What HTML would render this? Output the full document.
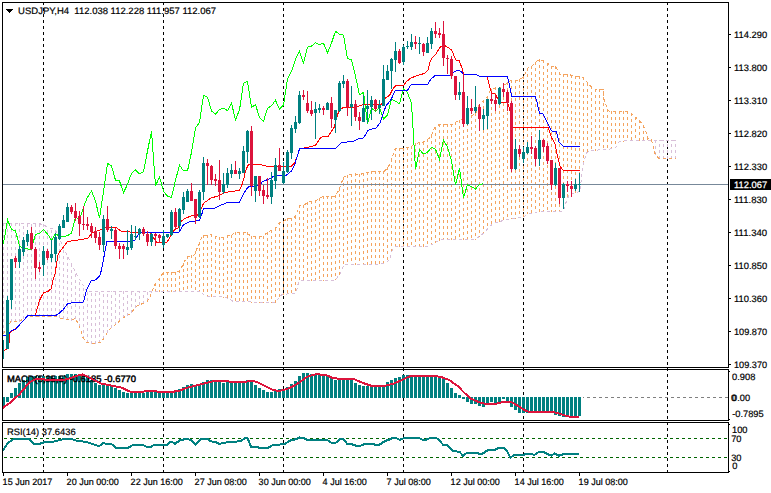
<!DOCTYPE html>
<html><head><meta charset="utf-8"><title>USDJPY H4</title>
<style>
html,body{margin:0;padding:0;background:#fff;}
body{width:771px;height:493px;position:relative;overflow:hidden;}
svg{font-family:"Liberation Sans",sans-serif;}
</style></head><body>
<svg width="771" height="493" viewBox="0 0 771 493" style="position:absolute;left:0;top:0" shape-rendering="crispEdges">
<line x1="43.5" y1="2" x2="43.5" y2="473" stroke="#000" stroke-width="1" stroke-dasharray="3 3"/>
<line x1="163.5" y1="2" x2="163.5" y2="473" stroke="#000" stroke-width="1" stroke-dasharray="3 3"/>
<line x1="283.5" y1="2" x2="283.5" y2="473" stroke="#000" stroke-width="1" stroke-dasharray="3 3"/>
<line x1="403.5" y1="2" x2="403.5" y2="473" stroke="#000" stroke-width="1" stroke-dasharray="3 3"/>
<line x1="523.5" y1="2" x2="523.5" y2="473" stroke="#000" stroke-width="1" stroke-dasharray="3 3"/>
<line x1="667.5" y1="2" x2="667.5" y2="473" stroke="#000" stroke-width="1" stroke-dasharray="3 3"/>
<clipPath id="cm"><rect x="3" y="3" width="725" height="364"/></clipPath>
<g clip-path="url(#cm)">
<line x1="3.5" y1="334" x2="3.5" y2="223" stroke="#D8BFD8" stroke-width="1" stroke-dasharray="3 3"/>
<line x1="7.5" y1="328" x2="7.5" y2="223" stroke="#D8BFD8" stroke-width="1" stroke-dasharray="3 3"/>
<line x1="11.5" y1="322" x2="11.5" y2="223" stroke="#D8BFD8" stroke-width="1" stroke-dasharray="3 3"/>
<line x1="15.5" y1="322" x2="15.5" y2="223" stroke="#D8BFD8" stroke-width="1" stroke-dasharray="3 3"/>
<line x1="19.5" y1="322" x2="19.5" y2="223" stroke="#D8BFD8" stroke-width="1" stroke-dasharray="3 3"/>
<line x1="23.5" y1="319" x2="23.5" y2="223" stroke="#D8BFD8" stroke-width="1" stroke-dasharray="3 3"/>
<line x1="27.5" y1="317" x2="27.5" y2="223" stroke="#D8BFD8" stroke-width="1" stroke-dasharray="3 3"/>
<line x1="31.5" y1="317" x2="31.5" y2="223" stroke="#D8BFD8" stroke-width="1" stroke-dasharray="3 3"/>
<line x1="35.5" y1="317" x2="35.5" y2="223" stroke="#D8BFD8" stroke-width="1" stroke-dasharray="3 3"/>
<line x1="39.5" y1="317" x2="39.5" y2="223" stroke="#D8BFD8" stroke-width="1" stroke-dasharray="3 3"/>
<line x1="43.5" y1="317" x2="43.5" y2="224" stroke="#D8BFD8" stroke-width="1" stroke-dasharray="3 3"/>
<line x1="47.5" y1="317" x2="47.5" y2="227" stroke="#D8BFD8" stroke-width="1" stroke-dasharray="3 3"/>
<line x1="51.5" y1="317" x2="51.5" y2="228" stroke="#D8BFD8" stroke-width="1" stroke-dasharray="3 3"/>
<line x1="55.5" y1="317" x2="55.5" y2="230" stroke="#D8BFD8" stroke-width="1" stroke-dasharray="3 3"/>
<line x1="59.5" y1="318" x2="59.5" y2="238" stroke="#D8BFD8" stroke-width="1" stroke-dasharray="3 3"/>
<line x1="63.5" y1="319" x2="63.5" y2="247" stroke="#D8BFD8" stroke-width="1" stroke-dasharray="3 3"/>
<line x1="67.5" y1="320" x2="67.5" y2="256" stroke="#D8BFD8" stroke-width="1" stroke-dasharray="3 3"/>
<line x1="71.5" y1="321" x2="71.5" y2="264" stroke="#D8BFD8" stroke-width="1" stroke-dasharray="3 3"/>
<line x1="75.5" y1="319" x2="75.5" y2="272" stroke="#D8BFD8" stroke-width="1" stroke-dasharray="3 3"/>
<line x1="79.5" y1="327" x2="79.5" y2="279" stroke="#D8BFD8" stroke-width="1" stroke-dasharray="3 3"/>
<line x1="83.5" y1="339" x2="83.5" y2="286" stroke="#D8BFD8" stroke-width="1" stroke-dasharray="3 3"/>
<line x1="87.5" y1="343" x2="87.5" y2="291" stroke="#D8BFD8" stroke-width="1" stroke-dasharray="3 3"/>
<line x1="91.5" y1="344" x2="91.5" y2="291" stroke="#D8BFD8" stroke-width="1" stroke-dasharray="3 3"/>
<line x1="95.5" y1="344" x2="95.5" y2="291" stroke="#D8BFD8" stroke-width="1" stroke-dasharray="3 3"/>
<line x1="99.5" y1="343" x2="99.5" y2="291" stroke="#D8BFD8" stroke-width="1" stroke-dasharray="3 3"/>
<line x1="103.5" y1="339" x2="103.5" y2="291" stroke="#D8BFD8" stroke-width="1" stroke-dasharray="3 3"/>
<line x1="107.5" y1="333" x2="107.5" y2="291" stroke="#D8BFD8" stroke-width="1" stroke-dasharray="3 3"/>
<line x1="111.5" y1="328" x2="111.5" y2="291" stroke="#D8BFD8" stroke-width="1" stroke-dasharray="3 3"/>
<line x1="115.5" y1="325" x2="115.5" y2="291" stroke="#D8BFD8" stroke-width="1" stroke-dasharray="3 3"/>
<line x1="119.5" y1="321" x2="119.5" y2="291" stroke="#D8BFD8" stroke-width="1" stroke-dasharray="3 3"/>
<line x1="123.5" y1="318" x2="123.5" y2="291" stroke="#D8BFD8" stroke-width="1" stroke-dasharray="3 3"/>
<line x1="127.5" y1="316" x2="127.5" y2="291" stroke="#D8BFD8" stroke-width="1" stroke-dasharray="3 3"/>
<line x1="131.5" y1="313" x2="131.5" y2="291" stroke="#D8BFD8" stroke-width="1" stroke-dasharray="3 3"/>
<line x1="135.5" y1="308" x2="135.5" y2="291" stroke="#D8BFD8" stroke-width="1" stroke-dasharray="3 3"/>
<line x1="139.5" y1="305" x2="139.5" y2="291" stroke="#D8BFD8" stroke-width="1" stroke-dasharray="3 3"/>
<line x1="143.5" y1="304" x2="143.5" y2="291" stroke="#D8BFD8" stroke-width="1" stroke-dasharray="3 3"/>
<line x1="147.5" y1="301" x2="147.5" y2="291" stroke="#D8BFD8" stroke-width="1" stroke-dasharray="3 3"/>
<line x1="151.5" y1="293" x2="151.5" y2="291" stroke="#D8BFD8" stroke-width="1" stroke-dasharray="3 3"/>
<line x1="155.5" y1="283" x2="155.5" y2="292" stroke="#F4A460" stroke-width="1" stroke-dasharray="3 3"/>
<line x1="159.5" y1="278" x2="159.5" y2="292" stroke="#F4A460" stroke-width="1" stroke-dasharray="3 3"/>
<line x1="163.5" y1="272" x2="163.5" y2="292" stroke="#F4A460" stroke-width="1" stroke-dasharray="3 3"/>
<line x1="167.5" y1="272" x2="167.5" y2="292" stroke="#F4A460" stroke-width="1" stroke-dasharray="3 3"/>
<line x1="171.5" y1="272" x2="171.5" y2="292" stroke="#F4A460" stroke-width="1" stroke-dasharray="3 3"/>
<line x1="175.5" y1="272" x2="175.5" y2="292" stroke="#F4A460" stroke-width="1" stroke-dasharray="3 3"/>
<line x1="179.5" y1="270" x2="179.5" y2="292" stroke="#F4A460" stroke-width="1" stroke-dasharray="3 3"/>
<line x1="183.5" y1="263" x2="183.5" y2="292" stroke="#F4A460" stroke-width="1" stroke-dasharray="3 3"/>
<line x1="187.5" y1="256" x2="187.5" y2="292" stroke="#F4A460" stroke-width="1" stroke-dasharray="3 3"/>
<line x1="191.5" y1="255" x2="191.5" y2="292" stroke="#F4A460" stroke-width="1" stroke-dasharray="3 3"/>
<line x1="195.5" y1="251" x2="195.5" y2="292" stroke="#F4A460" stroke-width="1" stroke-dasharray="3 3"/>
<line x1="199.5" y1="242" x2="199.5" y2="292" stroke="#F4A460" stroke-width="1" stroke-dasharray="3 3"/>
<line x1="203.5" y1="235" x2="203.5" y2="295" stroke="#F4A460" stroke-width="1" stroke-dasharray="3 3"/>
<line x1="207.5" y1="235" x2="207.5" y2="297" stroke="#F4A460" stroke-width="1" stroke-dasharray="3 3"/>
<line x1="211.5" y1="234" x2="211.5" y2="297" stroke="#F4A460" stroke-width="1" stroke-dasharray="3 3"/>
<line x1="215.5" y1="236" x2="215.5" y2="297" stroke="#F4A460" stroke-width="1" stroke-dasharray="3 3"/>
<line x1="219.5" y1="237" x2="219.5" y2="297" stroke="#F4A460" stroke-width="1" stroke-dasharray="3 3"/>
<line x1="223.5" y1="237" x2="223.5" y2="298" stroke="#F4A460" stroke-width="1" stroke-dasharray="3 3"/>
<line x1="227.5" y1="235" x2="227.5" y2="299" stroke="#F4A460" stroke-width="1" stroke-dasharray="3 3"/>
<line x1="231.5" y1="235" x2="231.5" y2="301" stroke="#F4A460" stroke-width="1" stroke-dasharray="3 3"/>
<line x1="235.5" y1="232" x2="235.5" y2="302" stroke="#F4A460" stroke-width="1" stroke-dasharray="3 3"/>
<line x1="239.5" y1="232" x2="239.5" y2="302" stroke="#F4A460" stroke-width="1" stroke-dasharray="3 3"/>
<line x1="243.5" y1="232" x2="243.5" y2="302" stroke="#F4A460" stroke-width="1" stroke-dasharray="3 3"/>
<line x1="247.5" y1="232" x2="247.5" y2="302" stroke="#F4A460" stroke-width="1" stroke-dasharray="3 3"/>
<line x1="251.5" y1="236" x2="251.5" y2="303" stroke="#F4A460" stroke-width="1" stroke-dasharray="3 3"/>
<line x1="255.5" y1="236" x2="255.5" y2="303" stroke="#F4A460" stroke-width="1" stroke-dasharray="3 3"/>
<line x1="259.5" y1="236" x2="259.5" y2="303" stroke="#F4A460" stroke-width="1" stroke-dasharray="3 3"/>
<line x1="263.5" y1="236" x2="263.5" y2="303" stroke="#F4A460" stroke-width="1" stroke-dasharray="3 3"/>
<line x1="267.5" y1="232" x2="267.5" y2="303" stroke="#F4A460" stroke-width="1" stroke-dasharray="3 3"/>
<line x1="271.5" y1="230" x2="271.5" y2="303" stroke="#F4A460" stroke-width="1" stroke-dasharray="3 3"/>
<line x1="275.5" y1="228" x2="275.5" y2="303" stroke="#F4A460" stroke-width="1" stroke-dasharray="3 3"/>
<line x1="279.5" y1="222" x2="279.5" y2="298" stroke="#F4A460" stroke-width="1" stroke-dasharray="3 3"/>
<line x1="283.5" y1="221" x2="283.5" y2="295" stroke="#F4A460" stroke-width="1" stroke-dasharray="3 3"/>
<line x1="287.5" y1="218" x2="287.5" y2="294" stroke="#F4A460" stroke-width="1" stroke-dasharray="3 3"/>
<line x1="291.5" y1="218" x2="291.5" y2="294" stroke="#F4A460" stroke-width="1" stroke-dasharray="3 3"/>
<line x1="295.5" y1="216" x2="295.5" y2="294" stroke="#F4A460" stroke-width="1" stroke-dasharray="3 3"/>
<line x1="299.5" y1="205" x2="299.5" y2="282" stroke="#F4A460" stroke-width="1" stroke-dasharray="3 3"/>
<line x1="303.5" y1="205" x2="303.5" y2="281" stroke="#F4A460" stroke-width="1" stroke-dasharray="3 3"/>
<line x1="307.5" y1="202" x2="307.5" y2="281" stroke="#F4A460" stroke-width="1" stroke-dasharray="3 3"/>
<line x1="311.5" y1="201" x2="311.5" y2="281" stroke="#F4A460" stroke-width="1" stroke-dasharray="3 3"/>
<line x1="315.5" y1="200" x2="315.5" y2="281" stroke="#F4A460" stroke-width="1" stroke-dasharray="3 3"/>
<line x1="319.5" y1="198" x2="319.5" y2="281" stroke="#F4A460" stroke-width="1" stroke-dasharray="3 3"/>
<line x1="323.5" y1="196" x2="323.5" y2="281" stroke="#F4A460" stroke-width="1" stroke-dasharray="3 3"/>
<line x1="327.5" y1="196" x2="327.5" y2="281" stroke="#F4A460" stroke-width="1" stroke-dasharray="3 3"/>
<line x1="331.5" y1="196" x2="331.5" y2="281" stroke="#F4A460" stroke-width="1" stroke-dasharray="3 3"/>
<line x1="335.5" y1="195" x2="335.5" y2="280" stroke="#F4A460" stroke-width="1" stroke-dasharray="3 3"/>
<line x1="339.5" y1="188" x2="339.5" y2="275" stroke="#F4A460" stroke-width="1" stroke-dasharray="3 3"/>
<line x1="343.5" y1="177" x2="343.5" y2="266" stroke="#F4A460" stroke-width="1" stroke-dasharray="3 3"/>
<line x1="347.5" y1="175" x2="347.5" y2="265" stroke="#F4A460" stroke-width="1" stroke-dasharray="3 3"/>
<line x1="351.5" y1="174" x2="351.5" y2="265" stroke="#F4A460" stroke-width="1" stroke-dasharray="3 3"/>
<line x1="355.5" y1="173" x2="355.5" y2="265" stroke="#F4A460" stroke-width="1" stroke-dasharray="3 3"/>
<line x1="359.5" y1="174" x2="359.5" y2="265" stroke="#F4A460" stroke-width="1" stroke-dasharray="3 3"/>
<line x1="363.5" y1="173" x2="363.5" y2="265" stroke="#F4A460" stroke-width="1" stroke-dasharray="3 3"/>
<line x1="367.5" y1="172" x2="367.5" y2="265" stroke="#F4A460" stroke-width="1" stroke-dasharray="3 3"/>
<line x1="371.5" y1="171" x2="371.5" y2="265" stroke="#F4A460" stroke-width="1" stroke-dasharray="3 3"/>
<line x1="375.5" y1="171" x2="375.5" y2="265" stroke="#F4A460" stroke-width="1" stroke-dasharray="3 3"/>
<line x1="379.5" y1="171" x2="379.5" y2="265" stroke="#F4A460" stroke-width="1" stroke-dasharray="3 3"/>
<line x1="383.5" y1="171" x2="383.5" y2="264" stroke="#F4A460" stroke-width="1" stroke-dasharray="3 3"/>
<line x1="387.5" y1="167" x2="387.5" y2="262" stroke="#F4A460" stroke-width="1" stroke-dasharray="3 3"/>
<line x1="391.5" y1="159" x2="391.5" y2="253" stroke="#F4A460" stroke-width="1" stroke-dasharray="3 3"/>
<line x1="395.5" y1="148" x2="395.5" y2="247" stroke="#F4A460" stroke-width="1" stroke-dasharray="3 3"/>
<line x1="399.5" y1="148" x2="399.5" y2="247" stroke="#F4A460" stroke-width="1" stroke-dasharray="3 3"/>
<line x1="403.5" y1="148" x2="403.5" y2="247" stroke="#F4A460" stroke-width="1" stroke-dasharray="3 3"/>
<line x1="407.5" y1="147" x2="407.5" y2="247" stroke="#F4A460" stroke-width="1" stroke-dasharray="3 3"/>
<line x1="411.5" y1="146" x2="411.5" y2="247" stroke="#F4A460" stroke-width="1" stroke-dasharray="3 3"/>
<line x1="415.5" y1="143" x2="415.5" y2="247" stroke="#F4A460" stroke-width="1" stroke-dasharray="3 3"/>
<line x1="419.5" y1="142" x2="419.5" y2="247" stroke="#F4A460" stroke-width="1" stroke-dasharray="3 3"/>
<line x1="423.5" y1="142" x2="423.5" y2="247" stroke="#F4A460" stroke-width="1" stroke-dasharray="3 3"/>
<line x1="427.5" y1="139" x2="427.5" y2="247" stroke="#F4A460" stroke-width="1" stroke-dasharray="3 3"/>
<line x1="431.5" y1="135" x2="431.5" y2="245" stroke="#F4A460" stroke-width="1" stroke-dasharray="3 3"/>
<line x1="435.5" y1="127" x2="435.5" y2="243" stroke="#F4A460" stroke-width="1" stroke-dasharray="3 3"/>
<line x1="439.5" y1="124" x2="439.5" y2="241" stroke="#F4A460" stroke-width="1" stroke-dasharray="3 3"/>
<line x1="443.5" y1="124" x2="443.5" y2="240" stroke="#F4A460" stroke-width="1" stroke-dasharray="3 3"/>
<line x1="447.5" y1="124" x2="447.5" y2="240" stroke="#F4A460" stroke-width="1" stroke-dasharray="3 3"/>
<line x1="451.5" y1="124" x2="451.5" y2="240" stroke="#F4A460" stroke-width="1" stroke-dasharray="3 3"/>
<line x1="455.5" y1="122" x2="455.5" y2="240" stroke="#F4A460" stroke-width="1" stroke-dasharray="3 3"/>
<line x1="459.5" y1="120" x2="459.5" y2="240" stroke="#F4A460" stroke-width="1" stroke-dasharray="3 3"/>
<line x1="463.5" y1="118" x2="463.5" y2="240" stroke="#F4A460" stroke-width="1" stroke-dasharray="3 3"/>
<line x1="467.5" y1="117" x2="467.5" y2="240" stroke="#F4A460" stroke-width="1" stroke-dasharray="3 3"/>
<line x1="471.5" y1="115" x2="471.5" y2="240" stroke="#F4A460" stroke-width="1" stroke-dasharray="3 3"/>
<line x1="475.5" y1="113" x2="475.5" y2="240" stroke="#F4A460" stroke-width="1" stroke-dasharray="3 3"/>
<line x1="479.5" y1="104" x2="479.5" y2="237" stroke="#F4A460" stroke-width="1" stroke-dasharray="3 3"/>
<line x1="483.5" y1="100" x2="483.5" y2="234" stroke="#F4A460" stroke-width="1" stroke-dasharray="3 3"/>
<line x1="487.5" y1="97" x2="487.5" y2="229" stroke="#F4A460" stroke-width="1" stroke-dasharray="3 3"/>
<line x1="491.5" y1="89" x2="491.5" y2="225" stroke="#F4A460" stroke-width="1" stroke-dasharray="3 3"/>
<line x1="495.5" y1="87" x2="495.5" y2="223" stroke="#F4A460" stroke-width="1" stroke-dasharray="3 3"/>
<line x1="499.5" y1="87" x2="499.5" y2="222" stroke="#F4A460" stroke-width="1" stroke-dasharray="3 3"/>
<line x1="503.5" y1="85" x2="503.5" y2="221" stroke="#F4A460" stroke-width="1" stroke-dasharray="3 3"/>
<line x1="507.5" y1="82" x2="507.5" y2="220" stroke="#F4A460" stroke-width="1" stroke-dasharray="3 3"/>
<line x1="511.5" y1="80" x2="511.5" y2="219" stroke="#F4A460" stroke-width="1" stroke-dasharray="3 3"/>
<line x1="515.5" y1="80" x2="515.5" y2="219" stroke="#F4A460" stroke-width="1" stroke-dasharray="3 3"/>
<line x1="519.5" y1="79" x2="519.5" y2="218" stroke="#F4A460" stroke-width="1" stroke-dasharray="3 3"/>
<line x1="523.5" y1="76" x2="523.5" y2="217" stroke="#F4A460" stroke-width="1" stroke-dasharray="3 3"/>
<line x1="527.5" y1="68" x2="527.5" y2="214" stroke="#F4A460" stroke-width="1" stroke-dasharray="3 3"/>
<line x1="531.5" y1="66" x2="531.5" y2="214" stroke="#F4A460" stroke-width="1" stroke-dasharray="3 3"/>
<line x1="535.5" y1="62" x2="535.5" y2="213" stroke="#F4A460" stroke-width="1" stroke-dasharray="3 3"/>
<line x1="539.5" y1="59" x2="539.5" y2="212" stroke="#F4A460" stroke-width="1" stroke-dasharray="3 3"/>
<line x1="543.5" y1="60" x2="543.5" y2="212" stroke="#F4A460" stroke-width="1" stroke-dasharray="3 3"/>
<line x1="547.5" y1="63" x2="547.5" y2="212" stroke="#F4A460" stroke-width="1" stroke-dasharray="3 3"/>
<line x1="551.5" y1="66" x2="551.5" y2="212" stroke="#F4A460" stroke-width="1" stroke-dasharray="3 3"/>
<line x1="555.5" y1="66" x2="555.5" y2="212" stroke="#F4A460" stroke-width="1" stroke-dasharray="3 3"/>
<line x1="559.5" y1="72" x2="559.5" y2="212" stroke="#F4A460" stroke-width="1" stroke-dasharray="3 3"/>
<line x1="563.5" y1="74" x2="563.5" y2="210" stroke="#F4A460" stroke-width="1" stroke-dasharray="3 3"/>
<line x1="567.5" y1="74" x2="567.5" y2="199" stroke="#F4A460" stroke-width="1" stroke-dasharray="3 3"/>
<line x1="571.5" y1="75" x2="571.5" y2="194" stroke="#F4A460" stroke-width="1" stroke-dasharray="3 3"/>
<line x1="575.5" y1="76" x2="575.5" y2="193" stroke="#F4A460" stroke-width="1" stroke-dasharray="3 3"/>
<line x1="579.5" y1="76" x2="579.5" y2="192" stroke="#F4A460" stroke-width="1" stroke-dasharray="3 3"/>
<line x1="583.5" y1="77" x2="583.5" y2="165" stroke="#F4A460" stroke-width="1" stroke-dasharray="3 3"/>
<line x1="587.5" y1="83" x2="587.5" y2="153" stroke="#F4A460" stroke-width="1" stroke-dasharray="3 3"/>
<line x1="591.5" y1="86" x2="591.5" y2="151" stroke="#F4A460" stroke-width="1" stroke-dasharray="3 3"/>
<line x1="595.5" y1="89" x2="595.5" y2="151" stroke="#F4A460" stroke-width="1" stroke-dasharray="3 3"/>
<line x1="599.5" y1="89" x2="599.5" y2="150" stroke="#F4A460" stroke-width="1" stroke-dasharray="3 3"/>
<line x1="603.5" y1="91" x2="603.5" y2="150" stroke="#F4A460" stroke-width="1" stroke-dasharray="3 3"/>
<line x1="607.5" y1="109" x2="607.5" y2="150" stroke="#F4A460" stroke-width="1" stroke-dasharray="3 3"/>
<line x1="611.5" y1="111" x2="611.5" y2="149" stroke="#F4A460" stroke-width="1" stroke-dasharray="3 3"/>
<line x1="615.5" y1="111" x2="615.5" y2="148" stroke="#F4A460" stroke-width="1" stroke-dasharray="3 3"/>
<line x1="619.5" y1="111" x2="619.5" y2="142" stroke="#F4A460" stroke-width="1" stroke-dasharray="3 3"/>
<line x1="623.5" y1="111" x2="623.5" y2="142" stroke="#F4A460" stroke-width="1" stroke-dasharray="3 3"/>
<line x1="627.5" y1="111" x2="627.5" y2="141" stroke="#F4A460" stroke-width="1" stroke-dasharray="3 3"/>
<line x1="631.5" y1="113" x2="631.5" y2="141" stroke="#F4A460" stroke-width="1" stroke-dasharray="3 3"/>
<line x1="635.5" y1="117" x2="635.5" y2="141" stroke="#F4A460" stroke-width="1" stroke-dasharray="3 3"/>
<line x1="639.5" y1="120" x2="639.5" y2="141" stroke="#F4A460" stroke-width="1" stroke-dasharray="3 3"/>
<line x1="643.5" y1="125" x2="643.5" y2="141" stroke="#F4A460" stroke-width="1" stroke-dasharray="3 3"/>
<line x1="647.5" y1="137" x2="647.5" y2="141" stroke="#F4A460" stroke-width="1" stroke-dasharray="3 3"/>
<line x1="651.5" y1="139" x2="651.5" y2="141" stroke="#F4A460" stroke-width="1" stroke-dasharray="3 3"/>
<line x1="655.5" y1="155" x2="655.5" y2="140" stroke="#D8BFD8" stroke-width="1" stroke-dasharray="3 3"/>
<line x1="659.5" y1="159" x2="659.5" y2="140" stroke="#D8BFD8" stroke-width="1" stroke-dasharray="3 3"/>
<line x1="663.5" y1="159" x2="663.5" y2="140" stroke="#D8BFD8" stroke-width="1" stroke-dasharray="3 3"/>
<line x1="667.5" y1="159" x2="667.5" y2="140" stroke="#D8BFD8" stroke-width="1" stroke-dasharray="3 3"/>
<line x1="671.5" y1="159" x2="671.5" y2="140" stroke="#D8BFD8" stroke-width="1" stroke-dasharray="3 3"/>
<line x1="675.5" y1="159" x2="675.5" y2="140" stroke="#D8BFD8" stroke-width="1" stroke-dasharray="3 3"/>
<polyline points="3.0,223.5 36.0,223.5 44.0,224.4 47.0,227.3 52.0,228.7 56.0,231.0 66.0,253.0 72.5,266.0 78.0,277.0 87.0,292.0 120.0,291.6 201.0,291.3 205.2,296.6 223.4,297.0 228.0,298.4 233.8,301.8 275.3,302.3 281.8,294.5 296.0,293.2 298.7,281.6 302.6,280.3 335.0,280.3 340.3,273.8 344.0,264.7 385.7,263.9 390.0,258.0 392.6,248.8 396.5,246.2 429.0,246.2 435.5,242.3 442.0,239.2 475.7,239.2 483.5,233.2 490.0,226.2 494.0,222.9 504.3,220.3 512.0,218.4 522.5,217.7 527.7,213.8 539.4,211.5 562.7,211.0 564.0,209.0 566.3,201.5 569.3,194.5 580.0,191.5 582.0,172.0 583.6,163.7 586.0,153.6 589.5,150.6 604.7,149.6 607.0,150.0 616.4,147.0 619.2,142.0 624.2,141.0 675.6,140.7" fill="none" stroke="#D8BFD8" stroke-width="1" stroke-dasharray="3 3" />
<polyline points="2.9,334.0 5.2,331.4 11.0,321.4 19.5,321.4 27.0,316.4 56.0,316.4 59.1,317.8 65.0,319.4 71.4,320.1 75.3,318.4 77.9,323.0 81.2,330.8 83.1,337.9 87.0,342.7 91.0,343.5 101.2,342.5 105.4,335.7 109.6,329.3 116.4,323.9 121.4,319.2 126.5,315.5 130.0,314.0 136.9,306.0 147.0,301.7 150.4,295.8 152.0,291.6 155.4,283.2 159.6,278.0 163.0,273.0 175.6,272.6 179.0,271.4 183.2,264.6 186.6,257.0 194.2,255.0 198.4,245.2 202.6,235.5 212.0,234.8 215.3,236.8 223.7,237.6 228.0,235.5 231.4,235.5 234.7,232.6 247.3,232.2 250.4,236.4 259.7,236.8 264.0,236.0 267.0,232.2 271.0,230.6 275.5,228.4 279.5,222.5 283.5,221.4 287.5,218.4 291.5,218.4 295.5,216.5 299.5,205.5 303.5,205.5 307.5,202.4 316.8,200.0 323.0,196.6 335.4,196.0 338.5,190.7 341.7,182.4 343.7,177.3 347.9,175.2 354.0,173.7 360.3,174.6 364.5,172.5 372.8,171.7 384.5,171.3 389.0,165.5 391.4,160.0 393.3,154.0 395.3,148.4 403.7,148.3 407.5,147.6 411.6,146.5 413.5,144.8 419.4,142.3 423.5,142.0 427.3,139.8 431.2,136.5 434.3,128.2 438.5,125.0 453.0,124.5 456.0,122.0 462.0,119.4 467.8,117.0 475.4,114.0 479.6,104.2 483.5,100.5 487.6,97.0 490.6,89.5 495.6,87.8 500.7,87.0 505.0,84.5 510.8,80.6 519.3,79.9 523.5,76.9 527.7,68.4 532.0,65.9 536.0,61.7 539.5,59.5 543.7,60.8 548.0,63.4 551.3,66.7 554.7,65.9 558.0,70.0 560.6,74.8 570.0,74.8 574.2,76.5 583.6,77.2 587.7,83.4 590.8,86.5 595.0,89.0 603.3,89.6 604.3,100.0 607.4,109.3 609.5,111.8 630.2,111.8 633.4,115.5 639.6,120.7 643.7,126.0 646.3,133.0 647.5,137.8 651.5,139.8 652.4,144.3 653.7,146.0 654.4,151.5 655.4,154.7 657.0,156.7 659.0,158.3 675.6,158.3" fill="none" stroke="#F4A460" stroke-width="1" stroke-dasharray="3 3" />
<rect x="3" y="184" width="725" height="1" fill="#778899"/>
<polyline points="3.4,243.9 7.6,220.0 11.5,229.6 15.5,230.8 19.4,245.6 23.4,248.6 27.5,249.0 31.5,249.3 35.4,234.1 39.5,233.8 43.5,229.6 47.6,234.1 51.6,240.5 55.5,233.8 59.5,236.3 63.6,236.8 67.6,235.5 71.5,233.4 75.5,216.9 79.6,219.5 83.6,206.8 87.5,197.2 91.5,190.9 95.5,201.1 99.5,217.9 103.5,191.8 107.5,163.3 111.5,165.8 115.5,180.3 119.5,181.0 123.5,192.8 127.5,184.3 131.5,173.3 135.5,170.0 139.5,173.9 143.5,171.7 147.5,151.0 151.5,131.3 155.5,186.1 159.5,176.8 163.5,191.1 167.5,196.3 171.5,197.5 175.5,180.3 179.5,165.0 183.5,170.9 187.5,170.9 191.5,152.3 195.5,127.9 199.5,122.3 203.5,95.3 207.5,97.1 211.5,110.9 215.5,114.3 219.5,109.5 223.5,108.3 227.5,110.6 231.5,103.3 235.5,119.7 239.5,110.0 243.5,83.1 247.5,81.3 251.5,107.5 255.5,104.5 259.5,117.6 263.5,121.3 267.5,108.3 271.5,105.8 275.5,100.3 279.5,109.3 283.5,105.0 287.5,79.2 291.5,71.3 295.5,59.2 299.5,51.4 303.5,62.9 307.5,47.3 311.5,46.0 315.5,42.7 319.5,44.7 323.5,43.2 327.5,52.8 331.5,43.0 335.5,31.2 339.5,34.2 343.5,35.1 347.5,58.7 351.5,59.5 355.5,76.3 359.5,94.9 363.5,92.3 367.5,124.3 371.5,108.3 375.5,111.3 379.5,107.5 383.5,119.0 387.5,115.1 391.5,99.3 395.5,101.1 399.5,103.8 403.5,88.6 407.5,92.7 411.5,103.3 415.5,169.1 419.5,149.7 423.5,153.9 427.5,152.3 431.5,147.2 435.5,149.2 439.5,159.3 443.5,140.1 447.5,147.2 451.5,161.0 455.5,185.1 459.5,168.3 463.5,197.8 467.5,184.6 471.5,186.8 475.5,189.0 479.5,184.3 483.5,183.9" fill="none" stroke="#00FF00" stroke-width="1" />
<polyline points="3.4,350.5 7.1,349.0 9.4,341.2 9.7,334.0 11.0,331.4 15.5,329.0 27.8,315.8 35.4,315.5 37.1,308.7 39.6,300.3 43.5,292.7 48.0,291.5 51.4,288.5 53.1,280.0 54.8,275.0 58.2,254.0 67.5,241.4 75.0,240.5 87.7,238.5 91.9,232.9 101.2,229.6 105.4,227.0 115.5,227.0 121.4,231.3 130.0,232.0 149.5,232.0 153.7,237.9 156.3,242.0 167.2,242.0 170.6,236.2 174.0,230.3 178.2,227.7 181.6,221.0 185.0,218.5 192.5,215.4 197.0,215.4 201.0,209.2 203.5,203.3 211.0,198.0 218.6,195.9 222.8,193.4 231.3,191.2 239.2,190.8 241.4,186.6 243.9,178.2 245.6,170.6 248.6,164.2 260.0,164.2 264.0,165.9 274.3,166.4 291.0,166.4 294.5,163.0 297.0,157.0 299.6,148.7 308.0,147.3 315.6,145.3 319.8,138.5 322.3,136.9 328.0,136.7 334.0,127.5 337.3,115.6 339.0,110.6 343.2,107.6 355.9,107.2 362.6,104.7 381.2,104.2 385.4,98.0 389.6,95.4 393.0,88.7 395.5,86.0 403.6,85.9 406.0,82.0 411.2,77.8 416.3,76.0 419.6,74.7 424.2,73.6 428.0,70.2 429.7,62.6 432.3,57.5 435.6,54.5 439.9,47.4 443.2,44.9 446.6,46.6 451.7,50.0 454.2,56.2 455.9,60.0 459.3,60.9 461.8,67.6 463.5,74.4 476.3,74.3 479.6,76.5 487.2,76.9 490.6,90.4 492.3,93.4 494.8,93.4 497.3,98.0 499.9,102.2 507.5,102.2 510.0,110.6 511.7,118.2 512.5,127.1 548.0,127.1 550.5,134.2 551.6,137.6 555.0,144.3 556.6,152.0 558.3,159.5 560.0,166.3 563.4,170.5 579.5,170.5" fill="none" stroke="#FF0000" stroke-width="1" />
<polyline points="2.9,335.3 7.8,335.3 11.0,330.8 15.6,329.2 27.9,315.5 55.8,315.5 59.1,313.2 63.2,309.6 67.5,303.7 71.7,302.8 83.5,302.0 86.8,289.3 91.0,280.9 95.3,280.0 99.5,276.3 101.2,270.9 107.0,241.4 127.6,241.7 135.0,240.0 137.7,235.3 139.4,232.0 179.2,232.0 182.8,225.4 186.0,223.5 190.6,221.4 199.3,220.8 201.8,214.3 203.5,208.7 215.3,208.0 219.5,205.8 226.2,203.0 239.2,202.6 242.2,196.7 246.4,189.0 249.0,186.6 259.0,185.8 262.5,181.5 269.2,179.0 274.3,176.0 286.0,175.6 291.0,171.4 294.5,165.5 297.0,157.0 299.6,148.5 335.6,148.4 341.3,142.8 354.2,141.0 359.3,138.4 363.5,138.0 367.7,130.8 371.0,129.1 376.0,128.3 380.3,122.4 382.9,114.0 386.2,105.5 390.5,100.5 393.0,95.4 395.5,90.4 407.5,90.2 411.2,84.5 428.0,84.2 430.6,79.5 434.8,75.7 450.8,75.4 454.2,71.9 458.4,70.2 461.0,71.4 463.5,74.4 476.3,74.3 479.6,76.5 507.5,76.5 509.1,83.6 511.7,96.3 535.3,96.3 537.0,102.2 539.5,113.1 542.9,114.0 548.0,124.1 551.3,130.8 556.6,132.0 559.0,141.8 563.4,146.5 579.5,146.5" fill="none" stroke="#0000FF" stroke-width="1" />
<rect x="3" y="340" width="1" height="19" fill="#008080"/>
<rect x="7" y="296" width="1" height="53" fill="#008080"/>
<rect x="6" y="300" width="3" height="49" fill="#008080"/>
<rect x="11" y="259" width="1" height="50" fill="#008080"/>
<rect x="10" y="259" width="3" height="41" fill="#008080"/>
<rect x="15" y="256" width="1" height="12" fill="#DC143C"/>
<rect x="14" y="258" width="3" height="4" fill="#DC143C"/>
<rect x="19" y="246" width="1" height="22" fill="#008080"/>
<rect x="18" y="249" width="3" height="13" fill="#008080"/>
<rect x="23" y="237" width="1" height="19" fill="#008080"/>
<rect x="22" y="240" width="3" height="12" fill="#008080"/>
<rect x="27" y="230" width="1" height="16" fill="#008080"/>
<rect x="26" y="234" width="3" height="8" fill="#008080"/>
<rect x="31" y="227" width="1" height="23" fill="#DC143C"/>
<rect x="30" y="233" width="3" height="16" fill="#DC143C"/>
<rect x="35" y="247" width="1" height="32" fill="#DC143C"/>
<rect x="34" y="249" width="3" height="19" fill="#DC143C"/>
<rect x="39" y="262" width="1" height="10" fill="#DC143C"/>
<rect x="38" y="267" width="3" height="2" fill="#DC143C"/>
<rect x="43" y="246" width="1" height="30" fill="#008080"/>
<rect x="42" y="251" width="3" height="14" fill="#008080"/>
<rect x="47" y="249" width="1" height="11" fill="#DC143C"/>
<rect x="46" y="251" width="3" height="7" fill="#DC143C"/>
<rect x="51" y="240" width="1" height="22" fill="#008080"/>
<rect x="50" y="254" width="3" height="4" fill="#008080"/>
<rect x="55" y="233" width="1" height="29" fill="#008080"/>
<rect x="54" y="237" width="3" height="17" fill="#008080"/>
<rect x="59" y="224" width="1" height="16" fill="#008080"/>
<rect x="58" y="226" width="3" height="13" fill="#008080"/>
<rect x="63" y="215" width="1" height="13" fill="#008080"/>
<rect x="62" y="220" width="3" height="8" fill="#008080"/>
<rect x="67" y="203" width="1" height="19" fill="#008080"/>
<rect x="66" y="207" width="3" height="15" fill="#008080"/>
<rect x="71" y="205" width="1" height="9" fill="#DC143C"/>
<rect x="70" y="207" width="3" height="5" fill="#DC143C"/>
<rect x="75" y="203" width="1" height="18" fill="#DC143C"/>
<rect x="74" y="211" width="3" height="7" fill="#DC143C"/>
<rect x="79" y="211" width="1" height="25" fill="#DC143C"/>
<rect x="78" y="216" width="3" height="8" fill="#DC143C"/>
<rect x="83" y="206" width="1" height="24" fill="#DC143C"/>
<rect x="82" y="224" width="3" height="1" fill="#DC143C"/>
<rect x="87" y="217" width="1" height="13" fill="#DC143C"/>
<rect x="86" y="224" width="3" height="2" fill="#DC143C"/>
<rect x="91" y="223" width="1" height="15" fill="#DC143C"/>
<rect x="90" y="226" width="3" height="6" fill="#DC143C"/>
<rect x="95" y="227" width="1" height="16" fill="#DC143C"/>
<rect x="94" y="231" width="3" height="7" fill="#DC143C"/>
<rect x="99" y="232" width="1" height="18" fill="#DC143C"/>
<rect x="98" y="237" width="3" height="8" fill="#DC143C"/>
<rect x="103" y="215" width="1" height="37" fill="#008080"/>
<rect x="102" y="219" width="3" height="26" fill="#008080"/>
<rect x="107" y="206" width="1" height="26" fill="#DC143C"/>
<rect x="106" y="219" width="3" height="11" fill="#DC143C"/>
<rect x="111" y="226" width="1" height="13" fill="#008080"/>
<rect x="110" y="229" width="3" height="2" fill="#008080"/>
<rect x="115" y="228" width="1" height="21" fill="#DC143C"/>
<rect x="114" y="230" width="3" height="16" fill="#DC143C"/>
<rect x="119" y="243" width="1" height="16" fill="#DC143C"/>
<rect x="118" y="246" width="3" height="3" fill="#DC143C"/>
<rect x="123" y="244" width="1" height="15" fill="#DC143C"/>
<rect x="122" y="246" width="3" height="3" fill="#DC143C"/>
<rect x="127" y="230" width="1" height="25" fill="#008080"/>
<rect x="126" y="247" width="3" height="3" fill="#008080"/>
<rect x="131" y="225" width="1" height="25" fill="#008080"/>
<rect x="130" y="234" width="3" height="14" fill="#008080"/>
<rect x="135" y="226" width="1" height="14" fill="#008080"/>
<rect x="134" y="236" width="3" height="1" fill="#008080"/>
<rect x="139" y="228" width="1" height="12" fill="#008080"/>
<rect x="138" y="229" width="3" height="5" fill="#008080"/>
<rect x="143" y="227" width="1" height="9" fill="#DC143C"/>
<rect x="142" y="229" width="3" height="5" fill="#DC143C"/>
<rect x="147" y="231" width="1" height="15" fill="#DC143C"/>
<rect x="146" y="234" width="3" height="8" fill="#DC143C"/>
<rect x="151" y="233" width="1" height="13" fill="#008080"/>
<rect x="150" y="234" width="3" height="8" fill="#008080"/>
<rect x="155" y="233" width="1" height="13" fill="#DC143C"/>
<rect x="154" y="234" width="3" height="2" fill="#DC143C"/>
<rect x="159" y="234" width="1" height="9" fill="#DC143C"/>
<rect x="158" y="235" width="3" height="3" fill="#DC143C"/>
<rect x="163" y="230" width="1" height="18" fill="#008080"/>
<rect x="162" y="236" width="3" height="9" fill="#008080"/>
<rect x="167" y="234" width="1" height="4" fill="#008080"/>
<rect x="166" y="234" width="3" height="3" fill="#008080"/>
<rect x="171" y="210" width="1" height="26" fill="#008080"/>
<rect x="170" y="212" width="3" height="23" fill="#008080"/>
<rect x="175" y="208" width="1" height="21" fill="#DC143C"/>
<rect x="174" y="212" width="3" height="15" fill="#DC143C"/>
<rect x="179" y="208" width="1" height="22" fill="#008080"/>
<rect x="178" y="209" width="3" height="17" fill="#008080"/>
<rect x="183" y="192" width="1" height="22" fill="#008080"/>
<rect x="182" y="197" width="3" height="13" fill="#008080"/>
<rect x="187" y="189" width="1" height="13" fill="#008080"/>
<rect x="186" y="191" width="3" height="11" fill="#008080"/>
<rect x="191" y="183" width="1" height="18" fill="#DC143C"/>
<rect x="190" y="191" width="3" height="10" fill="#DC143C"/>
<rect x="195" y="199" width="1" height="25" fill="#DC143C"/>
<rect x="194" y="199" width="3" height="19" fill="#DC143C"/>
<rect x="199" y="190" width="1" height="28" fill="#008080"/>
<rect x="198" y="192" width="3" height="25" fill="#008080"/>
<rect x="203" y="157" width="1" height="43" fill="#008080"/>
<rect x="202" y="163" width="3" height="29" fill="#008080"/>
<rect x="207" y="159" width="1" height="26" fill="#DC143C"/>
<rect x="206" y="163" width="3" height="3" fill="#DC143C"/>
<rect x="211" y="165" width="1" height="20" fill="#DC143C"/>
<rect x="210" y="166" width="3" height="14" fill="#DC143C"/>
<rect x="215" y="174" width="1" height="12" fill="#DC143C"/>
<rect x="214" y="179" width="3" height="2" fill="#DC143C"/>
<rect x="219" y="160" width="1" height="40" fill="#DC143C"/>
<rect x="218" y="180" width="3" height="12" fill="#DC143C"/>
<rect x="223" y="173" width="1" height="21" fill="#008080"/>
<rect x="222" y="184" width="3" height="8" fill="#008080"/>
<rect x="227" y="168" width="1" height="20" fill="#008080"/>
<rect x="226" y="173" width="3" height="12" fill="#008080"/>
<rect x="231" y="164" width="1" height="14" fill="#008080"/>
<rect x="230" y="170" width="3" height="4" fill="#008080"/>
<rect x="235" y="161" width="1" height="13" fill="#DC143C"/>
<rect x="234" y="170" width="3" height="4" fill="#DC143C"/>
<rect x="239" y="168" width="1" height="11" fill="#008080"/>
<rect x="238" y="171" width="3" height="3" fill="#008080"/>
<rect x="243" y="146" width="1" height="27" fill="#008080"/>
<rect x="242" y="151" width="3" height="22" fill="#008080"/>
<rect x="247" y="130" width="1" height="33" fill="#008080"/>
<rect x="246" y="131" width="3" height="21" fill="#008080"/>
<rect x="251" y="126" width="1" height="70" fill="#DC143C"/>
<rect x="250" y="131" width="3" height="55" fill="#DC143C"/>
<rect x="255" y="176" width="1" height="26" fill="#008080"/>
<rect x="254" y="176" width="3" height="15" fill="#008080"/>
<rect x="259" y="176" width="1" height="20" fill="#DC143C"/>
<rect x="258" y="176" width="3" height="15" fill="#DC143C"/>
<rect x="263" y="185" width="1" height="19" fill="#DC143C"/>
<rect x="262" y="190" width="3" height="6" fill="#DC143C"/>
<rect x="267" y="178" width="1" height="21" fill="#DC143C"/>
<rect x="266" y="195" width="3" height="2" fill="#DC143C"/>
<rect x="271" y="172" width="1" height="32" fill="#008080"/>
<rect x="270" y="180" width="3" height="17" fill="#008080"/>
<rect x="275" y="158" width="1" height="31" fill="#008080"/>
<rect x="274" y="165" width="3" height="16" fill="#008080"/>
<rect x="279" y="148" width="1" height="23" fill="#DC143C"/>
<rect x="278" y="165" width="3" height="6" fill="#DC143C"/>
<rect x="283" y="162" width="1" height="22" fill="#008080"/>
<rect x="282" y="171" width="3" height="12" fill="#008080"/>
<rect x="287" y="150" width="1" height="23" fill="#008080"/>
<rect x="286" y="152" width="3" height="20" fill="#008080"/>
<rect x="291" y="125" width="1" height="34" fill="#008080"/>
<rect x="290" y="128" width="3" height="25" fill="#008080"/>
<rect x="295" y="116" width="1" height="17" fill="#008080"/>
<rect x="294" y="122" width="3" height="7" fill="#008080"/>
<rect x="299" y="91" width="1" height="33" fill="#008080"/>
<rect x="298" y="95" width="3" height="28" fill="#008080"/>
<rect x="303" y="90" width="1" height="10" fill="#DC143C"/>
<rect x="302" y="95" width="3" height="2" fill="#DC143C"/>
<rect x="307" y="91" width="1" height="22" fill="#DC143C"/>
<rect x="306" y="103" width="3" height="8" fill="#DC143C"/>
<rect x="311" y="101" width="1" height="15" fill="#DC143C"/>
<rect x="310" y="110" width="3" height="4" fill="#DC143C"/>
<rect x="315" y="102" width="1" height="37" fill="#008080"/>
<rect x="314" y="109" width="3" height="4" fill="#008080"/>
<rect x="319" y="104" width="1" height="9" fill="#008080"/>
<rect x="318" y="108" width="3" height="2" fill="#008080"/>
<rect x="323" y="106" width="1" height="9" fill="#DC143C"/>
<rect x="322" y="108" width="3" height="2" fill="#DC143C"/>
<rect x="327" y="102" width="1" height="8" fill="#008080"/>
<rect x="326" y="103" width="3" height="7" fill="#008080"/>
<rect x="331" y="97" width="1" height="31" fill="#DC143C"/>
<rect x="330" y="103" width="3" height="16" fill="#DC143C"/>
<rect x="335" y="110" width="1" height="23" fill="#008080"/>
<rect x="334" y="110" width="3" height="10" fill="#008080"/>
<rect x="339" y="81" width="1" height="31" fill="#008080"/>
<rect x="338" y="83" width="3" height="28" fill="#008080"/>
<rect x="343" y="75" width="1" height="13" fill="#008080"/>
<rect x="342" y="81" width="3" height="3" fill="#008080"/>
<rect x="347" y="79" width="1" height="37" fill="#DC143C"/>
<rect x="346" y="81" width="3" height="26" fill="#DC143C"/>
<rect x="351" y="86" width="1" height="40" fill="#008080"/>
<rect x="350" y="104" width="3" height="3" fill="#008080"/>
<rect x="355" y="100" width="1" height="21" fill="#DC143C"/>
<rect x="354" y="104" width="3" height="13" fill="#DC143C"/>
<rect x="359" y="112" width="1" height="18" fill="#DC143C"/>
<rect x="358" y="117" width="3" height="4" fill="#DC143C"/>
<rect x="363" y="95" width="1" height="27" fill="#008080"/>
<rect x="362" y="108" width="3" height="14" fill="#008080"/>
<rect x="367" y="90" width="1" height="33" fill="#008080"/>
<rect x="366" y="106" width="3" height="3" fill="#008080"/>
<rect x="371" y="96" width="1" height="24" fill="#008080"/>
<rect x="370" y="100" width="3" height="7" fill="#008080"/>
<rect x="375" y="99" width="1" height="12" fill="#DC143C"/>
<rect x="374" y="100" width="3" height="9" fill="#DC143C"/>
<rect x="379" y="100" width="1" height="14" fill="#008080"/>
<rect x="378" y="105" width="3" height="3" fill="#008080"/>
<rect x="383" y="65" width="1" height="41" fill="#008080"/>
<rect x="382" y="79" width="3" height="27" fill="#008080"/>
<rect x="387" y="65" width="1" height="15" fill="#008080"/>
<rect x="386" y="71" width="3" height="9" fill="#008080"/>
<rect x="391" y="58" width="1" height="31" fill="#008080"/>
<rect x="390" y="59" width="3" height="12" fill="#008080"/>
<rect x="395" y="42" width="1" height="30" fill="#008080"/>
<rect x="394" y="51" width="3" height="9" fill="#008080"/>
<rect x="399" y="49" width="1" height="15" fill="#DC143C"/>
<rect x="398" y="51" width="3" height="12" fill="#DC143C"/>
<rect x="403" y="45" width="1" height="20" fill="#008080"/>
<rect x="402" y="47" width="3" height="15" fill="#008080"/>
<rect x="407" y="41" width="1" height="8" fill="#008080"/>
<rect x="406" y="46" width="3" height="1" fill="#008080"/>
<rect x="411" y="34" width="1" height="16" fill="#008080"/>
<rect x="410" y="42" width="3" height="5" fill="#008080"/>
<rect x="415" y="36" width="1" height="13" fill="#DC143C"/>
<rect x="414" y="42" width="3" height="2" fill="#DC143C"/>
<rect x="419" y="37" width="1" height="17" fill="#008080"/>
<rect x="418" y="43" width="3" height="1" fill="#008080"/>
<rect x="423" y="43" width="1" height="13" fill="#DC143C"/>
<rect x="422" y="44" width="3" height="8" fill="#DC143C"/>
<rect x="427" y="37" width="1" height="16" fill="#008080"/>
<rect x="426" y="43" width="3" height="10" fill="#008080"/>
<rect x="431" y="28" width="1" height="21" fill="#008080"/>
<rect x="430" y="31" width="3" height="13" fill="#008080"/>
<rect x="435" y="22" width="1" height="16" fill="#DC143C"/>
<rect x="434" y="31" width="3" height="3" fill="#DC143C"/>
<rect x="439" y="28" width="1" height="10" fill="#DC143C"/>
<rect x="438" y="33" width="3" height="2" fill="#DC143C"/>
<rect x="443" y="21" width="1" height="45" fill="#DC143C"/>
<rect x="442" y="34" width="3" height="24" fill="#DC143C"/>
<rect x="447" y="55" width="1" height="19" fill="#DC143C"/>
<rect x="446" y="58" width="3" height="1" fill="#DC143C"/>
<rect x="451" y="56" width="1" height="23" fill="#DC143C"/>
<rect x="450" y="59" width="3" height="17" fill="#DC143C"/>
<rect x="455" y="76" width="1" height="24" fill="#DC143C"/>
<rect x="454" y="76" width="3" height="19" fill="#DC143C"/>
<rect x="459" y="82" width="1" height="18" fill="#008080"/>
<rect x="458" y="92" width="3" height="3" fill="#008080"/>
<rect x="463" y="74" width="1" height="53" fill="#DC143C"/>
<rect x="462" y="92" width="3" height="32" fill="#DC143C"/>
<rect x="467" y="96" width="1" height="29" fill="#008080"/>
<rect x="466" y="108" width="3" height="16" fill="#008080"/>
<rect x="471" y="99" width="1" height="15" fill="#DC143C"/>
<rect x="470" y="108" width="3" height="3" fill="#DC143C"/>
<rect x="475" y="86" width="1" height="27" fill="#008080"/>
<rect x="474" y="107" width="3" height="4" fill="#008080"/>
<rect x="479" y="104" width="1" height="27" fill="#DC143C"/>
<rect x="478" y="107" width="3" height="12" fill="#DC143C"/>
<rect x="483" y="109" width="1" height="21" fill="#008080"/>
<rect x="482" y="115" width="3" height="4" fill="#008080"/>
<rect x="487" y="99" width="1" height="30" fill="#008080"/>
<rect x="486" y="99" width="3" height="17" fill="#008080"/>
<rect x="491" y="93" width="1" height="11" fill="#DC143C"/>
<rect x="490" y="99" width="3" height="2" fill="#DC143C"/>
<rect x="495" y="95" width="1" height="16" fill="#DC143C"/>
<rect x="494" y="100" width="3" height="4" fill="#DC143C"/>
<rect x="499" y="87" width="1" height="18" fill="#008080"/>
<rect x="498" y="88" width="3" height="16" fill="#008080"/>
<rect x="503" y="83" width="1" height="14" fill="#DC143C"/>
<rect x="502" y="89" width="3" height="3" fill="#DC143C"/>
<rect x="507" y="90" width="1" height="21" fill="#DC143C"/>
<rect x="506" y="92" width="3" height="11" fill="#DC143C"/>
<rect x="511" y="101" width="1" height="71" fill="#DC143C"/>
<rect x="510" y="103" width="3" height="66" fill="#DC143C"/>
<rect x="515" y="139" width="1" height="31" fill="#008080"/>
<rect x="514" y="149" width="3" height="20" fill="#008080"/>
<rect x="519" y="145" width="1" height="12" fill="#DC143C"/>
<rect x="518" y="149" width="3" height="5" fill="#DC143C"/>
<rect x="523" y="147" width="1" height="16" fill="#008080"/>
<rect x="522" y="152" width="3" height="7" fill="#008080"/>
<rect x="527" y="142" width="1" height="12" fill="#008080"/>
<rect x="526" y="147" width="3" height="6" fill="#008080"/>
<rect x="531" y="136" width="1" height="18" fill="#DC143C"/>
<rect x="530" y="147" width="3" height="2" fill="#DC143C"/>
<rect x="535" y="146" width="1" height="20" fill="#DC143C"/>
<rect x="534" y="148" width="3" height="11" fill="#DC143C"/>
<rect x="539" y="130" width="1" height="36" fill="#008080"/>
<rect x="538" y="140" width="3" height="19" fill="#008080"/>
<rect x="543" y="139" width="1" height="13" fill="#DC143C"/>
<rect x="542" y="140" width="3" height="7" fill="#DC143C"/>
<rect x="547" y="143" width="1" height="21" fill="#DC143C"/>
<rect x="546" y="146" width="3" height="15" fill="#DC143C"/>
<rect x="551" y="160" width="1" height="30" fill="#DC143C"/>
<rect x="550" y="160" width="3" height="25" fill="#DC143C"/>
<rect x="555" y="163" width="1" height="23" fill="#008080"/>
<rect x="554" y="168" width="3" height="17" fill="#008080"/>
<rect x="559" y="168" width="1" height="36" fill="#DC143C"/>
<rect x="558" y="168" width="3" height="30" fill="#DC143C"/>
<rect x="563" y="183" width="1" height="26" fill="#008080"/>
<rect x="562" y="184" width="3" height="14" fill="#008080"/>
<rect x="567" y="181" width="1" height="11" fill="#DC143C"/>
<rect x="566" y="184" width="3" height="2" fill="#DC143C"/>
<rect x="571" y="181" width="1" height="16" fill="#DC143C"/>
<rect x="570" y="186" width="3" height="3" fill="#DC143C"/>
<rect x="575" y="179" width="1" height="12" fill="#008080"/>
<rect x="574" y="184" width="3" height="5" fill="#008080"/>
<rect x="579" y="173" width="1" height="19" fill="#008080"/>
<rect x="578" y="184" width="3" height="1" fill="#008080"/>
</g>
<line x1="728" y1="397.5" x2="583" y2="397.5" stroke="#808080" stroke-width="1" stroke-dasharray="3 3"/>
<rect x="3" y="397" width="2" height="10" fill="#008080"/>
<rect x="6" y="397" width="3" height="5" fill="#008080"/>
<rect x="10" y="393" width="3" height="5" fill="#008080"/>
<rect x="14" y="388" width="3" height="10" fill="#008080"/>
<rect x="18" y="383" width="3" height="15" fill="#008080"/>
<rect x="22" y="380" width="3" height="18" fill="#008080"/>
<rect x="26" y="377" width="3" height="21" fill="#008080"/>
<rect x="30" y="376" width="3" height="22" fill="#008080"/>
<rect x="34" y="376" width="3" height="22" fill="#008080"/>
<rect x="38" y="376" width="3" height="22" fill="#008080"/>
<rect x="42" y="376" width="3" height="22" fill="#008080"/>
<rect x="46" y="376" width="3" height="22" fill="#008080"/>
<rect x="50" y="376" width="3" height="22" fill="#008080"/>
<rect x="54" y="376" width="3" height="22" fill="#008080"/>
<rect x="58" y="376" width="3" height="22" fill="#008080"/>
<rect x="62" y="376" width="3" height="22" fill="#008080"/>
<rect x="66" y="374" width="3" height="24" fill="#008080"/>
<rect x="70" y="374" width="3" height="24" fill="#008080"/>
<rect x="74" y="374" width="3" height="24" fill="#008080"/>
<rect x="78" y="376" width="3" height="22" fill="#008080"/>
<rect x="82" y="376" width="3" height="22" fill="#008080"/>
<rect x="86" y="377" width="3" height="21" fill="#008080"/>
<rect x="90" y="380" width="3" height="18" fill="#008080"/>
<rect x="94" y="383" width="3" height="15" fill="#008080"/>
<rect x="98" y="385" width="3" height="13" fill="#008080"/>
<rect x="102" y="385" width="3" height="13" fill="#008080"/>
<rect x="106" y="386" width="3" height="12" fill="#008080"/>
<rect x="110" y="386" width="3" height="12" fill="#008080"/>
<rect x="114" y="388" width="3" height="10" fill="#008080"/>
<rect x="118" y="390" width="3" height="8" fill="#008080"/>
<rect x="122" y="392" width="3" height="6" fill="#008080"/>
<rect x="126" y="393" width="3" height="5" fill="#008080"/>
<rect x="130" y="393" width="3" height="5" fill="#008080"/>
<rect x="134" y="393" width="3" height="5" fill="#008080"/>
<rect x="138" y="393" width="3" height="5" fill="#008080"/>
<rect x="142" y="393" width="3" height="5" fill="#008080"/>
<rect x="146" y="392" width="3" height="6" fill="#008080"/>
<rect x="150" y="392" width="3" height="6" fill="#008080"/>
<rect x="154" y="392" width="3" height="6" fill="#008080"/>
<rect x="158" y="392" width="3" height="6" fill="#008080"/>
<rect x="162" y="392" width="3" height="6" fill="#008080"/>
<rect x="166" y="392" width="3" height="6" fill="#008080"/>
<rect x="170" y="392" width="3" height="6" fill="#008080"/>
<rect x="174" y="390" width="3" height="8" fill="#008080"/>
<rect x="178" y="389" width="3" height="9" fill="#008080"/>
<rect x="182" y="387" width="3" height="11" fill="#008080"/>
<rect x="186" y="385" width="3" height="13" fill="#008080"/>
<rect x="190" y="384" width="3" height="14" fill="#008080"/>
<rect x="194" y="386" width="3" height="12" fill="#008080"/>
<rect x="198" y="384" width="3" height="14" fill="#008080"/>
<rect x="202" y="382" width="3" height="16" fill="#008080"/>
<rect x="206" y="380" width="3" height="18" fill="#008080"/>
<rect x="210" y="380" width="3" height="18" fill="#008080"/>
<rect x="214" y="380" width="3" height="18" fill="#008080"/>
<rect x="218" y="380" width="3" height="18" fill="#008080"/>
<rect x="222" y="383" width="3" height="15" fill="#008080"/>
<rect x="226" y="382" width="3" height="16" fill="#008080"/>
<rect x="230" y="382" width="3" height="16" fill="#008080"/>
<rect x="234" y="382" width="3" height="16" fill="#008080"/>
<rect x="238" y="382" width="3" height="16" fill="#008080"/>
<rect x="242" y="382" width="3" height="16" fill="#008080"/>
<rect x="246" y="380" width="3" height="18" fill="#008080"/>
<rect x="250" y="382" width="3" height="16" fill="#008080"/>
<rect x="254" y="385" width="3" height="13" fill="#008080"/>
<rect x="258" y="388" width="3" height="10" fill="#008080"/>
<rect x="262" y="390" width="3" height="8" fill="#008080"/>
<rect x="266" y="392" width="3" height="6" fill="#008080"/>
<rect x="270" y="392" width="3" height="6" fill="#008080"/>
<rect x="274" y="390" width="3" height="8" fill="#008080"/>
<rect x="278" y="389" width="3" height="9" fill="#008080"/>
<rect x="282" y="389" width="3" height="9" fill="#008080"/>
<rect x="286" y="387" width="3" height="11" fill="#008080"/>
<rect x="290" y="384" width="3" height="14" fill="#008080"/>
<rect x="294" y="381" width="3" height="17" fill="#008080"/>
<rect x="298" y="376" width="3" height="22" fill="#008080"/>
<rect x="302" y="373" width="3" height="25" fill="#008080"/>
<rect x="306" y="373" width="3" height="25" fill="#008080"/>
<rect x="310" y="374" width="3" height="24" fill="#008080"/>
<rect x="314" y="374" width="3" height="24" fill="#008080"/>
<rect x="318" y="375" width="3" height="23" fill="#008080"/>
<rect x="322" y="375" width="3" height="23" fill="#008080"/>
<rect x="326" y="376" width="3" height="22" fill="#008080"/>
<rect x="330" y="378" width="3" height="20" fill="#008080"/>
<rect x="334" y="380" width="3" height="18" fill="#008080"/>
<rect x="338" y="379" width="3" height="19" fill="#008080"/>
<rect x="342" y="379" width="3" height="19" fill="#008080"/>
<rect x="346" y="379" width="3" height="19" fill="#008080"/>
<rect x="350" y="379" width="3" height="19" fill="#008080"/>
<rect x="354" y="383" width="3" height="15" fill="#008080"/>
<rect x="358" y="385" width="3" height="13" fill="#008080"/>
<rect x="362" y="386" width="3" height="12" fill="#008080"/>
<rect x="366" y="386" width="3" height="12" fill="#008080"/>
<rect x="370" y="386" width="3" height="12" fill="#008080"/>
<rect x="374" y="386" width="3" height="12" fill="#008080"/>
<rect x="378" y="386" width="3" height="12" fill="#008080"/>
<rect x="382" y="386" width="3" height="12" fill="#008080"/>
<rect x="386" y="382" width="3" height="16" fill="#008080"/>
<rect x="390" y="380" width="3" height="18" fill="#008080"/>
<rect x="394" y="378" width="3" height="20" fill="#008080"/>
<rect x="398" y="377" width="3" height="21" fill="#008080"/>
<rect x="402" y="375" width="3" height="23" fill="#008080"/>
<rect x="406" y="375" width="3" height="23" fill="#008080"/>
<rect x="410" y="375" width="3" height="23" fill="#008080"/>
<rect x="414" y="375" width="3" height="23" fill="#008080"/>
<rect x="418" y="375" width="3" height="23" fill="#008080"/>
<rect x="422" y="375" width="3" height="23" fill="#008080"/>
<rect x="426" y="375" width="3" height="23" fill="#008080"/>
<rect x="430" y="376" width="3" height="22" fill="#008080"/>
<rect x="434" y="376" width="3" height="22" fill="#008080"/>
<rect x="438" y="377" width="3" height="21" fill="#008080"/>
<rect x="442" y="379" width="3" height="19" fill="#008080"/>
<rect x="446" y="383" width="3" height="15" fill="#008080"/>
<rect x="450" y="388" width="3" height="10" fill="#008080"/>
<rect x="454" y="393" width="3" height="5" fill="#008080"/>
<rect x="458" y="395" width="3" height="3" fill="#008080"/>
<rect x="462" y="397" width="3" height="2" fill="#008080"/>
<rect x="466" y="397" width="3" height="5" fill="#008080"/>
<rect x="470" y="397" width="3" height="7" fill="#008080"/>
<rect x="474" y="397" width="3" height="7" fill="#008080"/>
<rect x="478" y="397" width="3" height="9" fill="#008080"/>
<rect x="482" y="397" width="3" height="10" fill="#008080"/>
<rect x="486" y="397" width="3" height="7" fill="#008080"/>
<rect x="490" y="397" width="3" height="5" fill="#008080"/>
<rect x="494" y="397" width="3" height="6" fill="#008080"/>
<rect x="498" y="397" width="3" height="6" fill="#008080"/>
<rect x="502" y="397" width="3" height="2" fill="#008080"/>
<rect x="506" y="397" width="3" height="5" fill="#008080"/>
<rect x="510" y="397" width="3" height="10" fill="#008080"/>
<rect x="514" y="397" width="3" height="13" fill="#008080"/>
<rect x="518" y="397" width="3" height="16" fill="#008080"/>
<rect x="522" y="397" width="3" height="16" fill="#008080"/>
<rect x="526" y="397" width="3" height="16" fill="#008080"/>
<rect x="530" y="397" width="3" height="16" fill="#008080"/>
<rect x="534" y="397" width="3" height="16" fill="#008080"/>
<rect x="538" y="397" width="3" height="16" fill="#008080"/>
<rect x="542" y="397" width="3" height="16" fill="#008080"/>
<rect x="546" y="397" width="3" height="16" fill="#008080"/>
<rect x="550" y="397" width="3" height="16" fill="#008080"/>
<rect x="554" y="397" width="3" height="18" fill="#008080"/>
<rect x="558" y="397" width="3" height="19" fill="#008080"/>
<rect x="562" y="397" width="3" height="20" fill="#008080"/>
<rect x="566" y="397" width="3" height="20" fill="#008080"/>
<rect x="570" y="397" width="3" height="20" fill="#008080"/>
<rect x="574" y="397" width="3" height="19" fill="#008080"/>
<rect x="578" y="397" width="3" height="19" fill="#008080"/>
<g shape-rendering="auto" text-rendering="geometricPrecision">
<text x="6.9" y="382" font-size="9.3" fill="#000" stroke="#000" stroke-width="0.45" textLength="129.2" lengthAdjust="spacingAndGlyphs">MACD(5,35,5) -0.6185 -0.6770</text>
</g>
<clipPath id="c2"><rect x="3" y="370" width="725" height="50"/></clipPath>
<g clip-path="url(#c2)">
<polyline points="2.9,407.8 9.7,403.0 19.5,394.2 29.2,382.5 37.0,378.6 48.6,380.0 64.2,380.0 75.9,376.1 82.4,374.5 86.6,376.3 95.9,381.0 101.1,383.6 111.5,385.6 121.9,387.7 128.1,390.8 132.2,392.1 142.6,392.1 145.7,391.0 153.6,390.5 157.5,391.7 173.0,391.7 179.0,390.9 186.7,387.8 198.4,385.0 208.0,382.5 215.9,380.6 225.6,380.6 229.5,381.6 247.0,381.6 251.0,380.6 256.7,382.0 264.5,385.8 272.3,389.7 278.0,390.9 284.0,390.0 291.7,387.0 299.5,382.5 307.2,376.7 313.0,374.8 318.0,374.2 326.7,375.3 332.5,378.0 344.2,379.2 354.0,379.2 361.7,382.5 371.4,385.8 385.0,385.8 392.8,383.9 400.6,380.6 408.4,376.7 414.2,375.7 426.0,375.7 439.8,376.6 448.7,379.7 457.5,385.8 464.0,392.5 470.7,398.6 479.5,402.4 486.0,403.9 497.2,403.5 503.8,401.7 510.4,401.7 517.0,405.2 523.6,409.7 529.0,411.9 550.0,411.9 556.7,412.7 563.3,415.0 570.0,416.7 579.2,416.7" fill="none" stroke="#DC143C" stroke-width="2" stroke-linejoin="round"/>
</g>
<line x1="4" y1="438.5" x2="728" y2="438.5" stroke="#006400" stroke-width="1" stroke-dasharray="3 3"/>
<line x1="4" y1="457.5" x2="728" y2="457.5" stroke="#006400" stroke-width="1" stroke-dasharray="3 3"/>
<clipPath id="c3"><rect x="3" y="423" width="725" height="49"/></clipPath>
<g clip-path="url(#c3)">
<polyline points="2.9,450.2 7.8,443.3 12.6,439.5 29.2,439.0 34.0,443.7 39.9,443.7 43.8,442.4 50.6,442.4 58.4,440.4 64.2,439.0 71.0,439.0 77.8,441.0 85.6,441.8 93.4,444.3 99.2,446.3 103.0,443.0 106.0,443.7 110.9,443.7 115.8,447.6 128.4,447.6 133.3,444.9 140.0,444.5 143.0,444.9 146.8,446.8 150.7,446.8 153.6,445.3 166.3,445.3 171.0,441.4 175.0,443.7 179.9,440.4 185.7,439.0 190.6,439.8 195.4,444.9 201.3,439.0 207.0,438.5 211.0,441.4 215.0,441.8 218.8,443.7 223.7,443.3 228.5,441.8 240.2,441.4 246.0,437.5 248.0,439.0 251.0,446.8 256.7,446.8 258.7,447.6 268.4,447.6 273.3,444.9 284.0,444.3 291.7,439.8 295.6,439.4 299.5,437.5 303.3,437.9 308.2,440.4 315.0,440.4 319.0,439.5 326.7,439.5 331.6,443.0 335.4,443.0 340.3,439.0 343.2,439.0 347.0,443.7 352.0,444.3 355.9,445.7 360.7,445.7 365.6,443.7 373.4,443.7 375.3,444.9 379.2,444.9 385.0,441.0 389.0,439.8 392.8,437.9 395.8,437.9 399.6,439.8 404.5,437.9 419.0,437.9 424.0,440.4 430.0,438.2 435.4,437.6 438.7,439.4 443.0,444.7 446.5,444.7 453.0,450.9 459.7,452.0 463.0,455.7 467.4,452.6 476.2,452.6 478.4,453.5 482.8,453.5 488.4,449.8 495.0,449.8 499.4,447.6 503.8,448.2 507.0,451.3 510.4,457.5 514.8,454.8 523.6,454.8 528.0,453.5 534.7,454.8 539.0,452.0 543.5,452.0 551.2,455.7 554.5,453.5 559.0,455.7 565.5,453.5 579.2,453.5" fill="none" stroke="#008080" stroke-width="2" stroke-linejoin="round"/>
</g>
<rect x="2" y="2" width="727" height="1" fill="#000"/>
<rect x="2" y="367" width="727" height="1" fill="#000"/>
<rect x="2" y="369" width="727" height="1" fill="#000"/>
<rect x="2" y="420" width="727" height="1" fill="#000"/>
<rect x="2" y="422" width="727" height="1" fill="#000"/>
<rect x="2" y="472" width="727" height="1" fill="#000"/>
<rect x="2" y="2" width="1" height="366" fill="#000"/>
<rect x="2" y="369" width="1" height="52" fill="#000"/>
<rect x="2" y="422" width="1" height="51" fill="#000"/>
<rect x="728" y="2" width="1" height="366" fill="#000"/>
<rect x="728" y="369" width="1" height="52" fill="#000"/>
<rect x="728" y="422" width="1" height="51" fill="#000"/>
<rect x="729" y="34" width="2" height="1" fill="#000"/>
<rect x="729" y="67" width="2" height="1" fill="#000"/>
<rect x="729" y="100" width="2" height="1" fill="#000"/>
<rect x="729" y="133" width="2" height="1" fill="#000"/>
<rect x="729" y="166" width="2" height="1" fill="#000"/>
<rect x="729" y="199" width="2" height="1" fill="#000"/>
<rect x="729" y="232" width="2" height="1" fill="#000"/>
<rect x="729" y="265" width="2" height="1" fill="#000"/>
<rect x="729" y="298" width="2" height="1" fill="#000"/>
<rect x="729" y="331" width="2" height="1" fill="#000"/>
<rect x="729" y="364" width="2" height="1" fill="#000"/>
<rect x="729" y="371" width="1" height="1" fill="#000"/>
<rect x="729" y="419" width="1" height="1" fill="#000"/>
<rect x="729" y="424" width="1" height="1" fill="#000"/>
<rect x="729" y="471" width="1" height="1" fill="#000"/>
<rect x="3" y="473" width="1" height="3" fill="#000"/>
<rect x="67" y="473" width="1" height="3" fill="#000"/>
<rect x="131" y="473" width="1" height="3" fill="#000"/>
<rect x="195" y="473" width="1" height="3" fill="#000"/>
<rect x="259" y="473" width="1" height="3" fill="#000"/>
<rect x="323" y="473" width="1" height="3" fill="#000"/>
<rect x="387" y="473" width="1" height="3" fill="#000"/>
<rect x="451" y="473" width="1" height="3" fill="#000"/>
<rect x="515" y="473" width="1" height="3" fill="#000"/>
<rect x="579" y="473" width="1" height="3" fill="#000"/>
<rect x="730" y="179" width="41" height="11" fill="#000"/>
<rect x="6" y="9" width="7" height="1" fill="#000"/>
<rect x="7" y="10" width="5" height="1" fill="#000"/>
<rect x="8" y="11" width="3" height="1" fill="#000"/>
<rect x="9" y="12" width="1" height="1" fill="#000"/>
<g shape-rendering="auto" text-rendering="geometricPrecision">
<text x="734.0" y="38" font-size="9.3" fill="#000" stroke="#000" stroke-width="0.2" textLength="33.1" lengthAdjust="spacingAndGlyphs">114.290</text>
<text x="734.0" y="71" font-size="9.3" fill="#000" stroke="#000" stroke-width="0.2" textLength="33.1" lengthAdjust="spacingAndGlyphs">113.800</text>
<text x="734.0" y="104" font-size="9.3" fill="#000" stroke="#000" stroke-width="0.2" textLength="33.1" lengthAdjust="spacingAndGlyphs">113.310</text>
<text x="734.0" y="137" font-size="9.3" fill="#000" stroke="#000" stroke-width="0.2" textLength="33.1" lengthAdjust="spacingAndGlyphs">112.820</text>
<text x="734.0" y="170" font-size="9.3" fill="#000" stroke="#000" stroke-width="0.2" textLength="33.1" lengthAdjust="spacingAndGlyphs">112.330</text>
<text x="734.0" y="203" font-size="9.3" fill="#000" stroke="#000" stroke-width="0.2" textLength="33.1" lengthAdjust="spacingAndGlyphs">111.830</text>
<text x="734.0" y="236" font-size="9.3" fill="#000" stroke="#000" stroke-width="0.2" textLength="33.1" lengthAdjust="spacingAndGlyphs">111.340</text>
<text x="734.0" y="269" font-size="9.3" fill="#000" stroke="#000" stroke-width="0.2" textLength="33.1" lengthAdjust="spacingAndGlyphs">110.850</text>
<text x="734.0" y="302" font-size="9.3" fill="#000" stroke="#000" stroke-width="0.2" textLength="33.1" lengthAdjust="spacingAndGlyphs">110.360</text>
<text x="734.0" y="335" font-size="9.3" fill="#000" stroke="#000" stroke-width="0.2" textLength="33.1" lengthAdjust="spacingAndGlyphs">109.870</text>
<text x="734.0" y="368" font-size="9.3" fill="#000" stroke="#000" stroke-width="0.2" textLength="33.1" lengthAdjust="spacingAndGlyphs">109.370</text>
<text x="734.0" y="188" font-size="9.3" fill="#fff" stroke="#fff" stroke-width="0.25" textLength="33.1" lengthAdjust="spacingAndGlyphs">112.067</text>
<text x="18.1" y="14" font-size="9.3" fill="#000" stroke="#000" stroke-width="0.2" textLength="197.9" lengthAdjust="spacingAndGlyphs">USDJPY,H4&#160; 112.038 112.228 111.957 112.067</text>
<text x="6.9" y="435" font-size="9.3" fill="#000" stroke="#000" stroke-width="0.2" textLength="68.8" lengthAdjust="spacingAndGlyphs">RSI(14) 37.6436</text>
<text x="732.1" y="380" font-size="9.3" fill="#000" stroke="#000" stroke-width="0.2" textLength="23.3" lengthAdjust="spacingAndGlyphs">0.908</text>
<text x="732.1" y="401" font-size="9.3" fill="#000" stroke="#000" stroke-width="0.2" textLength="18.0" lengthAdjust="spacingAndGlyphs">0.00</text>
<text x="731.1" y="401" font-size="9.3" fill="#000" stroke="#000" stroke-width="0.2">0</text>
<text x="732.2" y="417" font-size="9.3" fill="#000" stroke="#000" stroke-width="0.2" textLength="31.4" lengthAdjust="spacingAndGlyphs">-0.7895</text>
<text x="732.0" y="433" font-size="9.3" fill="#000" stroke="#000" stroke-width="0.2" textLength="15.5" lengthAdjust="spacingAndGlyphs">100</text>
<text x="731.2" y="442" font-size="9.3" fill="#000" stroke="#000" stroke-width="0.2" textLength="10.3" lengthAdjust="spacingAndGlyphs">70</text>
<text x="731.2" y="461" font-size="9.3" fill="#000" stroke="#000" stroke-width="0.2" textLength="10.3" lengthAdjust="spacingAndGlyphs">30</text>
<text x="732.2" y="469" font-size="9.3" fill="#000" stroke="#000" stroke-width="0.2">0</text>
<text transform="translate(2.6,485) scale(0.972,1)" font-size="9.3" fill="#000" stroke="#000" stroke-width="0.2">15 Jun 2017</text>
<text transform="translate(66.6,485) scale(0.972,1)" font-size="9.3" fill="#000" stroke="#000" stroke-width="0.2">20 Jun 00:00</text>
<text transform="translate(130.6,485) scale(0.972,1)" font-size="9.3" fill="#000" stroke="#000" stroke-width="0.2">22 Jun 16:00</text>
<text transform="translate(194.6,485) scale(0.972,1)" font-size="9.3" fill="#000" stroke="#000" stroke-width="0.2">27 Jun 08:00</text>
<text transform="translate(258.6,485) scale(0.972,1)" font-size="9.3" fill="#000" stroke="#000" stroke-width="0.2">30 Jun 00:00</text>
<text transform="translate(322.6,485) scale(0.972,1)" font-size="9.3" fill="#000" stroke="#000" stroke-width="0.2">4 Jul 16:00</text>
<text transform="translate(386.6,485) scale(0.972,1)" font-size="9.3" fill="#000" stroke="#000" stroke-width="0.2">7 Jul 08:00</text>
<text transform="translate(450.6,485) scale(0.972,1)" font-size="9.3" fill="#000" stroke="#000" stroke-width="0.2">12 Jul 00:00</text>
<text transform="translate(514.6,485) scale(0.972,1)" font-size="9.3" fill="#000" stroke="#000" stroke-width="0.2">14 Jul 16:00</text>
<text transform="translate(578.6,485) scale(0.972,1)" font-size="9.3" fill="#000" stroke="#000" stroke-width="0.2">19 Jul 08:00</text>
</g>
</svg>
</body></html>
